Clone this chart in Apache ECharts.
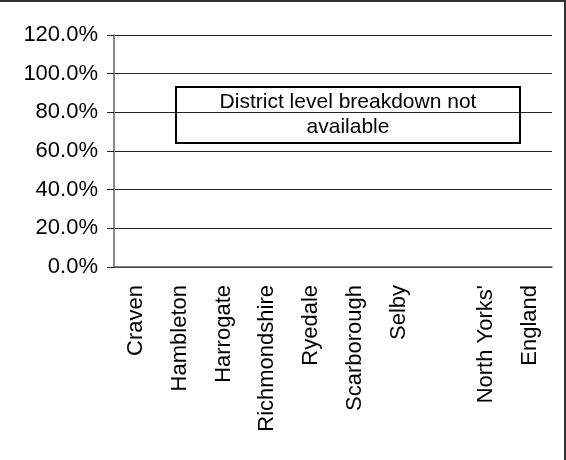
<!DOCTYPE html>
<html>
<head>
<meta charset="utf-8">
<script src="https://cdn.jsdelivr.net/npm/echarts@6/dist/echarts.min.js"></script>
<style>
  html, body { margin: 0; padding: 0; background: #fff; }
  #chart { width: 566px; height: 460px; box-sizing: border-box; border-top: 2px solid #333; border-right: 2px solid #333; }
</style>
</head>
<body>
<div id="chart"></div>
<script>
// categories along the x axis (8th slot is blank in the source)
const districts = ["Craven", "Hambleton", "Harrogate", "Richmondshire", "Ryedale", "Scarborough", "Selby", "", "North Yorks'", "England"];
// no district values were published
const shares = [null, null, null, null, null, null, null, null, null, null];
const y_ticks = [0, 0.2, 0.4, 0.6, 0.8, 1.0, 1.2];
const note_lines = ["District level breakdown not", "available"];

const font = "'Liberation Sans', Arial, sans-serif";

function pct(v){
  return (v * 100).toFixed(1) + "%";
}

const chart = echarts.init(document.getElementById("chart"), null, { renderer: "canvas" });

chart.setOption({
  animation: false,
  grid: { left: 114, right: 12, top: 33, bottom: 193 },
  xAxis: {
    type: "category",
    data: districts,
    boundaryGap: true,
    axisLine: { lineStyle: { color: "#555", width: 1.5 } },
    axisTick: { length: 7, lineStyle: { color: "#666", width: 1.5 } },
    axisLabel: { rotate: 90, margin: 18, interval: 0, color: "#000", fontSize: 22, fontFamily: font }
  },
  yAxis: {
    type: "value",
    min: y_ticks[0],
    max: y_ticks[y_ticks.length - 1],
    interval: 0.2,
    axisLine: { show: true, lineStyle: { color: "#888", width: 2 } },
    axisTick: { show: true, length: 7, lineStyle: { color: "#222", width: 1 } },
    splitLine: { show: true, lineStyle: { color: "#222", width: 1 } },
    axisLabel: { formatter: pct, margin: 16, color: "#000", fontSize: 22, fontFamily: font }
  },
  series: [{ type: "bar", data: shares, itemStyle: { color: "#336" } }],
  graphic: [{
    type: "group",
    z: 100,
    children: [
      {
        type: "rect",
        shape: { x: 176, y: 85, width: 344, height: 56 },
        style: { fill: "#fff", stroke: "#000", lineWidth: 2 }
      },
      {
        type: "text",
        x: 348, y: 113,
        style: {
          text: note_lines.join("\n"),
          fill: "#000", font: "21px " + font,
          align: "center", verticalAlign: "middle", lineHeight: 25
        }
      }
    ]
  }]
});
</script>
</body>
</html>
